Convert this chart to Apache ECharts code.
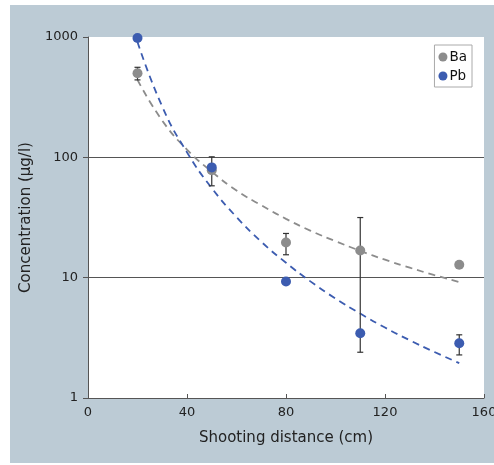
<!DOCTYPE html>
<html><head><meta charset="utf-8">
<script src="https://cdn.jsdelivr.net/npm/echarts@6/dist/echarts.min.js"></script>
<style>
html,body{margin:0;padding:0;background:#fff;}
#wrap{position:absolute;left:10px;top:5px;width:484px;height:458px;background:#bccbd5;}
#c{width:484px;height:458px;}
</style></head><body>
<div id="wrap"><div id="c"></div></div>
<script>
// Measured points
const baX = [20, 50, 80, 110, 150];
const baY = [500, 78, 19.6, 16.8, 12.8];
const pbX = [20, 50, 80, 110, 150];
const pbY = [980, 82.5, 9.3, 3.45, 2.85];
// Error bars [x, low, high]
const errX = [20, 50, 80, 110, 150];
const errLow = [440, 58, 15.5, 2.4, 2.28];
const errHigh = [560, 101, 23.3, 31.6, 3.35];
// Trend lines
const trendX = [20, 30, 40, 50, 60, 70, 80, 90, 100, 110, 120, 130, 140, 150];
const baTrend = [440, 202, 116, 76, 53, 40, 30.8, 24.5, 20.1, 16.7, 14.1, 12.1, 10.5, 9.2];
const pbTrend = [910, 264, 110, 55.6, 31.9, 19.9, 13.3, 9.27, 6.71, 5.03, 3.85, 3.02, 2.41, 1.95];
const xTicks = [0, 40, 80, 120, 160];
const yTicks = [1, 10, 100, 1000];

const BA = '#8c8c8c', PB = '#3c5cb0';
const FONT = 'DejaVu Sans';
const zip = (a, b) => a.map((v, i) => [v, b[i]]);

const chart = echarts.init(document.getElementById('c'), null, {renderer: 'canvas'});
chart.setOption({
  animation: false,
  textStyle: {fontFamily: FONT},
  grid: {left: 78, top: 32, right: 10, bottom: 65, show: true, backgroundColor: '#fff', borderWidth: 0,
    outerBoundsMode: 'none', containLabel: false},
  legend: {
    orient: 'vertical', right: 22, top: 40,
    backgroundColor: '#fff', borderColor: '#aaa', borderWidth: 1, padding: [5, 5, 4, 4],
    itemWidth: 9, itemHeight: 9, itemGap: 5, icon: 'circle',
    textStyle: {fontFamily: FONT, fontSize: 13.5, color: '#111', padding: [0, 0, 0, -3]},
    data: ['Ba', 'Pb']
  },
  xAxis: {
    type: 'value', min: 0, max: 160, interval: 40,
    name: 'Shooting distance (cm)', nameLocation: 'middle', nameGap: 33,
    nameTextStyle: {fontFamily: FONT, fontSize: 15, color: '#222'},
    axisLine: {lineStyle: {color: '#555', width: 1}},
    axisTick: {inside: true, length: 4, lineStyle: {color: '#555'}},
    axisLabel: {fontFamily: FONT, fontSize: 13, color: '#222', margin: 8,
      formatter: v => xTicks.includes(v) ? String(v) : ''},
    splitLine: {show: false}
  },
  yAxis: {
    type: 'log', logBase: 10, min: 1, max: 1000,
    name: 'Concentration (µg/l)', nameLocation: 'middle', nameGap: 51, nameRotate: 90,
    nameTextStyle: {fontFamily: FONT, fontSize: 15, color: '#222'},
    axisLine: {show: true, lineStyle: {color: '#555', width: 1}},
    axisTick: {show: true, inside: false, length: 5, lineStyle: {color: '#555'}},
    axisLabel: {fontFamily: FONT, fontSize: 13, color: '#222', margin: 10,
      formatter: v => yTicks.includes(Math.round(v)) ? String(Math.round(v)) : ''},
    splitLine: {show: true, lineStyle: {color: ['#555', '#555', '#555', 'rgba(0,0,0,0)'], width: 1}}
  },
  series: [
    {
      name: 'BaTrend', type: 'line', data: zip(trendX, baTrend), smooth: true, symbol: 'none',
      lineStyle: {color: BA, width: 1.8, type: [7, 5]}, silent: true, z: 2
    },
    {
      name: 'PbTrend', type: 'line', data: zip(trendX, pbTrend), smooth: true, symbol: 'none',
      lineStyle: {color: PB, width: 1.8, type: [7, 5]}, silent: true, z: 2
    },
    {
      name: 'err', type: 'custom', z: 3,
      data: errX.map((x, i) => [x, errLow[i], errHigh[i]]),
      renderItem: (params, api) => {
        const lo = api.coord([api.value(0), api.value(1)]);
        const hi = api.coord([api.value(0), api.value(2)]);
        const w = 3;
        const st = {stroke: '#333', lineWidth: 1.2};
        return {type: 'group', children: [
          {type: 'line', shape: {x1: lo[0], y1: lo[1], x2: hi[0], y2: hi[1]}, style: st},
          {type: 'line', shape: {x1: lo[0] - w, y1: lo[1], x2: lo[0] + w, y2: lo[1]}, style: st},
          {type: 'line', shape: {x1: hi[0] - w, y1: hi[1], x2: hi[0] + w, y2: hi[1]}, style: st}
        ]};
      }
    },
    {
      name: 'Ba', type: 'scatter', data: zip(baX, baY), symbolSize: 10,
      itemStyle: {color: BA, opacity: 1}, z: 4
    },
    {
      name: 'Pb', type: 'scatter', data: zip(pbX, pbY), symbolSize: 10,
      itemStyle: {color: PB, opacity: 1}, z: 5
    }
  ]
});
</script>
</body></html>
